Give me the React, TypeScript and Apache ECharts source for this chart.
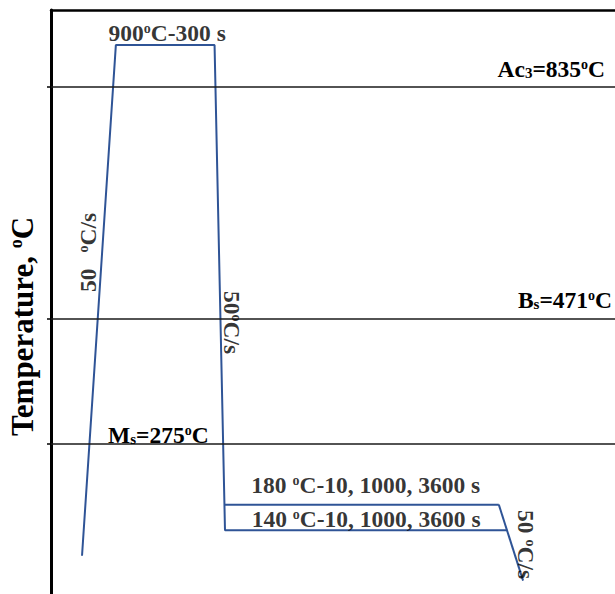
import React, { useEffect, useRef } from 'react';
import * as echarts from 'echarts';

// Schematic heat-treatment profile (time in arbitrary schematic units, temperature in °C)
const profileTime = [5.5, 11.5, 29.0, 30.85, 80.9];
const profileTemp = [100, 900, 900, 140, 140];
const holdHighTime = [30.8, 79.4];
const holdHighTemp = [180, 180];
const finalCoolTime = [79.4, 83.7];
const finalCoolTemp = [180, 61];

const criticalTemps = [835, 471, 275];
const criticalLabels = [
  '{n|Ac}{sub|3}{n|=835}{sup|o}{n|C}',
  '{n|B}{sub|s}{n|=471}{sup|o}{n|C}',
  '{n|M}{sub|s}{n|=275}{sup|o}{n|C}',
];

const austenitizeLabel = '{n|900}{sup|o}{n|C-300 s}';
const holdHighLabel = '{n|180 }{sup|o}{n|C-10, 1000, 3600 s}';
const holdLowLabel = '{n|140 }{sup|o}{n|C-10, 1000, 3600 s}';
const heatRateLabel = '{r|50}{gap| }{rs|o}{r|C/s}';
const coolRateLabel = '{r|50}{rs|o}{r|C/s}';
const finalRateLabel = '{r|50 }{rs|o}{r|C/s}';
const axisTitle = '{t|Temperature, }{ts|o}{t|C}';

const FONT = "'Liberation Serif', 'Times New Roman', serif";
const BLUE = '#2f5496';
const INK = '#000000';

const rich = {
  n: { fontFamily: FONT, fontWeight: 'bold', fontSize: 23.5, lineHeight: 23, color: INK },
  sup: { fontFamily: FONT, fontWeight: 'bold', fontSize: 14, color: INK, verticalAlign: 'top' },
  sub: { fontFamily: FONT, fontWeight: 'bold', fontSize: 15, color: INK, verticalAlign: 'bottom' },
  r: { fontFamily: FONT, fontWeight: 'bold', fontSize: 23.5, lineHeight: 23, color: INK },
  rs: { fontFamily: FONT, fontWeight: 'bold', fontSize: 14, color: INK, verticalAlign: 'top' },
  gap: { fontFamily: FONT, fontWeight: 'bold', fontSize: 23, width: 16, color: INK },
  t: { fontFamily: FONT, fontWeight: 'bold', fontSize: 31, lineHeight: 31, color: INK },
  ts: { fontFamily: FONT, fontWeight: 'bold', fontSize: 18, color: INK, verticalAlign: 'top' },
};

const zip = (xs: number[], ys: number[]) => xs.map((x, i) => [x, ys[i]]);
const mid = (x0: number, y0: number, x1: number, y1: number) => [(x0 + x1) / 2, (y0 + y1) / 2];

export default function App() {
  const ref = useRef<HTMLDivElement>(null);
  useEffect(() => {
    if (!ref.current) return;
    const chart = echarts.init(ref.current, null, { renderer: 'svg' });

    const annotations = [
      {
        value: mid(profileTime[1], profileTemp[1], profileTime[2], profileTemp[2]),
        label: { formatter: austenitizeLabel, offset: [2, -12] },
      },
      {
        value: mid(holdHighTime[0], holdHighTemp[0], holdHighTime[1], holdHighTemp[1]),
        label: { formatter: holdHighLabel, offset: [4, -20] },
      },
      {
        value: mid(profileTime[3], profileTemp[3], profileTime[4], profileTemp[4]),
        label: { formatter: holdLowLabel, offset: [0, -11] },
      },
      {
        value: mid(profileTime[0], profileTemp[0], profileTime[1], profileTemp[1]),
        label: { formatter: heatRateLabel, rotate: 90, offset: [48, -11] },
      },
      {
        value: mid(profileTime[2], profileTemp[2], profileTime[3], profileTemp[3]),
        label: { formatter: coolRateLabel, rotate: -90, offset: [35, -12.5] },
      },
      {
        value: mid(finalCoolTime[0], finalCoolTemp[0], finalCoolTime[1], finalCoolTemp[1]),
        label: { formatter: finalRateLabel, rotate: -90, offset: [2, -15] },
      },
    ];

    const labelDist = [
      [10, 5.6],
      [3, 7],
      [57, -2],
    ];
    const labelPos = ['insideEndTop', 'insideEndTop', 'insideStartTop'];

    chart.setOption({
      animation: false,
      backgroundColor: '#ffffff',
      grid: { left: 51, right: 0, top: 10, bottom: 0, containLabel: false, outerBoundsMode: 'none' },
      xAxis: {
        type: 'value',
        position: 'top',
        min: 0,
        max: 100,
        axisLine: { show: true, onZero: false, lineStyle: { color: '#000', width: 2.5 } },
        axisTick: { show: false },
        axisLabel: { show: false },
        splitLine: { show: false },
      },
      yAxis: {
        type: 'value',
        min: 40,
        max: 955,
        name: axisTitle,
        nameLocation: 'middle',
        nameRotate: 90,
        nameGap: 13,
        nameTextStyle: { rich, padding: [0, 49, 0, 0] },
        axisLine: { show: true, onZero: false, lineStyle: { color: '#000', width: 3 } },
        axisTick: {
          show: true,
          customValues: criticalTemps,
          length: 4,
          lineStyle: { color: '#000', width: 1.5 },
        },
        axisLabel: { show: false },
        splitLine: { show: false },
      },
      series: [
        {
          type: 'line',
          data: zip(profileTime, profileTemp),
          symbol: 'none',
          lineStyle: { color: BLUE, width: 2 },
          silent: true,
          z: 3,
          markLine: {
            silent: true,
            symbol: ['none', 'none'],
            animation: false,
            lineStyle: { color: '#1a1a1a', width: 1.5, type: 'solid' },
            emphasis: { disabled: true },
            data: criticalTemps.map((t, i) => ({
              yAxis: t,
              label: {
                show: true,
                position: labelPos[i],
                distance: labelDist[i],
                formatter: criticalLabels[i],
                rich,
              },
            })),
          },
        },
        {
          type: 'line',
          data: zip(holdHighTime, holdHighTemp),
          symbol: 'none',
          lineStyle: { color: BLUE, width: 2 },
          silent: true,
          z: 3,
        },
        {
          type: 'line',
          data: zip(finalCoolTime, finalCoolTemp),
          symbol: 'none',
          lineStyle: { color: BLUE, width: 2 },
          silent: true,
          z: 3,
        },
        {
          type: 'scatter',
          data: annotations,
          symbolSize: 0,
          silent: true,
          z: 5,
          label: { show: true, position: 'inside', rich, align: 'center', verticalAlign: 'middle' },
        },
      ],
    });
    return () => chart.dispose();
  }, []);
  return <div ref={ref} style={{ position: 'fixed', left: 0, top: 0, width: 615, height: 594, background: '#fff' }} />;
}
